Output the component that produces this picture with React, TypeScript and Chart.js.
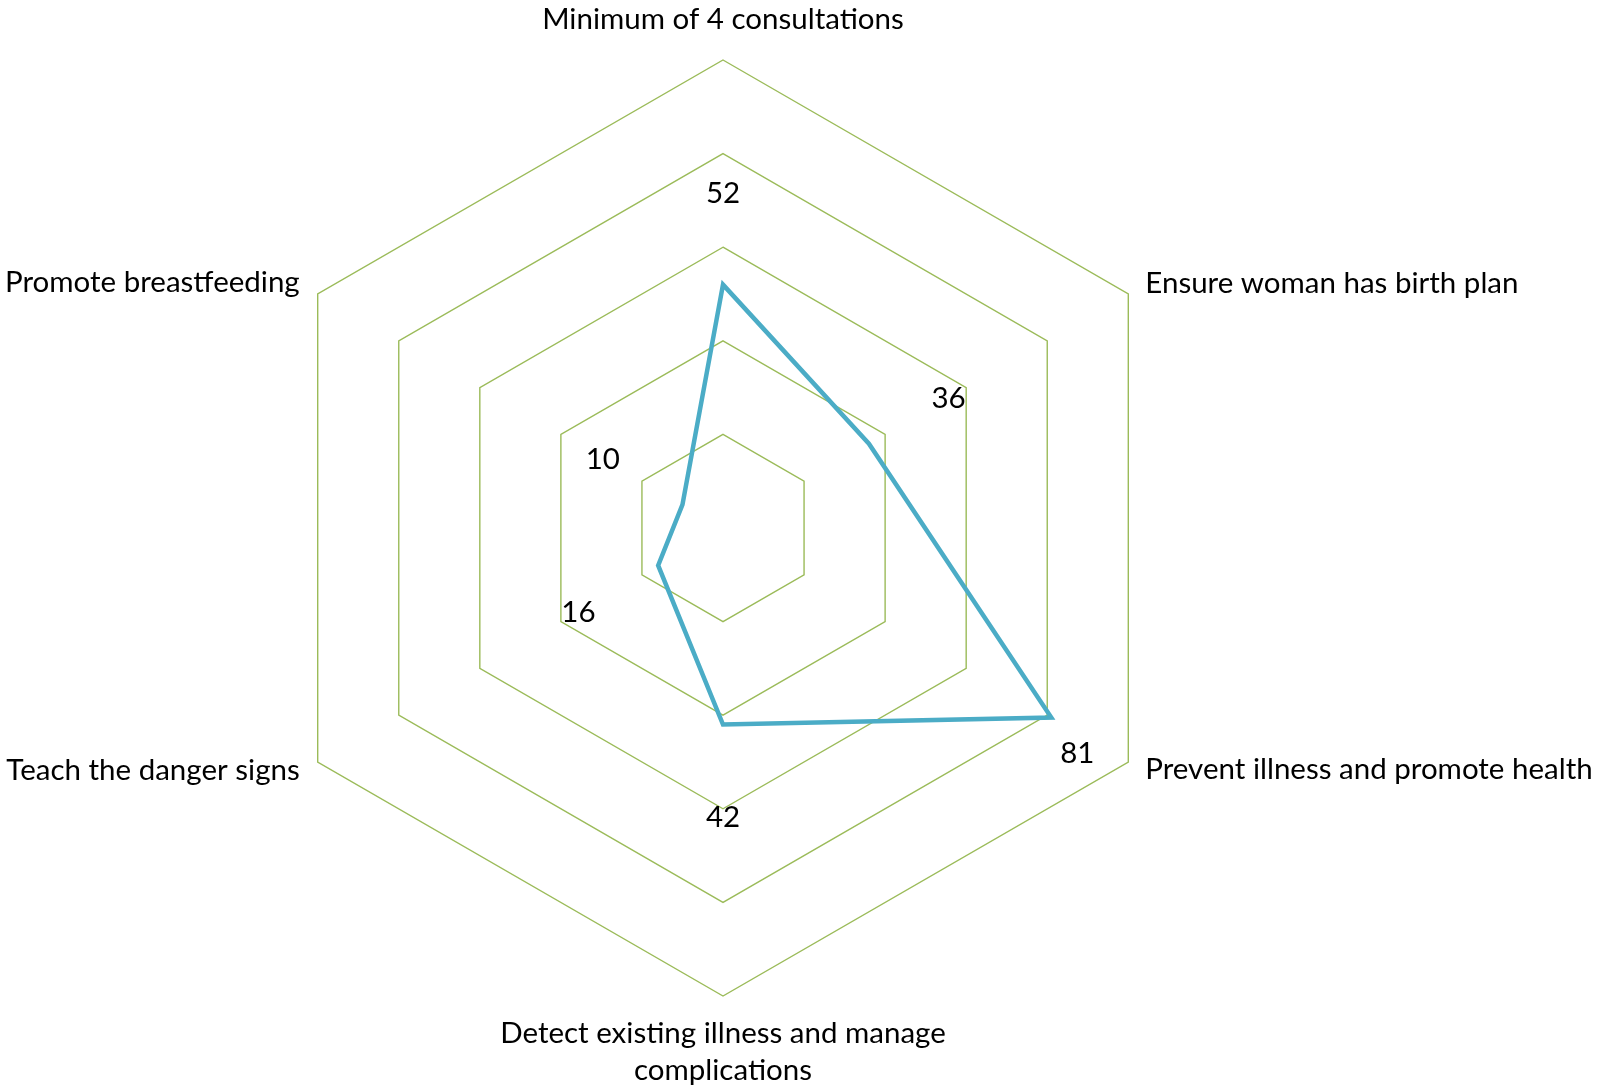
import React, { useEffect, useRef } from "react";
import { Chart, registerables } from "chart.js";

Chart.register(...registerables);

const categories: (string | string[])[] = [
  "Minimum of 4 consultations",
  "Ensure woman has birth plan",
  "Prevent illness and promote health",
  ["Detect existing illness and manage", "complications"],
  "Teach the danger signs",
  "Promote breastfeeding",
];
const values = [52, 36, 81, 42, 16, 10];
const scaleMax = 100;
const scaleStep = 20;

const FONT_FAMILY = "Lato, 'Open Sans', sans-serif";
const FONT_SIZE = 29.5;

const labelsPlugin = {
  id: "customLabels",
  afterDatasetsDraw(chart: any) {
    const scale = chart.scales.r;
    const ctx = chart.ctx;
    const R = scale.drawingArea;
    ctx.save();
    ctx.fillStyle = "#000000";
    ctx.font = `${FONT_SIZE}px ${FONT_FAMILY}`;
    ctx.textBaseline = "alphabetic";
    const n = categories.length;
    for (let i = 0; i < n; i++) {
      const v = scale.getPointPosition(i, R);
      const angleDeg = ((i * 360) / n) % 360;
      const lab = categories[i];
      const lines = Array.isArray(lab) ? lab : [lab];
      let x = v.x;
      let y = v.y;
      let align: CanvasTextAlign = "center";
      if (angleDeg === 0) {
        y = v.y - 31;
      } else if (angleDeg === 180) {
        y = v.y + 47;
      } else if (angleDeg < 180) {
        align = "left";
        x = v.x + 17;
        y = angleDeg < 90 ? v.y - 1 : v.y + 17;
      } else {
        align = "right";
        x = v.x - 18;
        y = angleDeg > 270 ? v.y - 2 : v.y + 18;
      }
      ctx.textAlign = align;
      lines.forEach((t, k) => ctx.fillText(t, x, y + k * 37));
    }
    // data labels
    ctx.textAlign = "center";
    values.forEach((val, i) => {
      const r = scale.getDistanceFromCenterForValue(val);
      let px: number, py: number;
      if (r + 92 > R) {
        const p = scale.getPointPosition(i, r);
        px = p.x + 26;
        py = p.y + 35;
      } else {
        const p = scale.getPointPosition(i, r + 92);
        px = p.x;
        py = p.y;
      }
      ctx.fillText(String(val), px, py + 10.5);
    });
    ctx.restore();
  },
};

export default function App() {
  const ref = useRef<HTMLCanvasElement>(null);
  useEffect(() => {
    if (!ref.current) return;
    const chart = new Chart(ref.current, {
      type: "radar",
      data: {
        labels: categories.map((c) => (Array.isArray(c) ? c.join(" ") : c)),
        datasets: [
          {
            label: "Series 1",
            data: values,
            borderColor: "#4BACC6",
            backgroundColor: "rgba(0,0,0,0)",
            borderWidth: 4.5,
            pointRadius: 0,
            pointHoverRadius: 0,
            fill: false,
            tension: 0,
            borderJoinStyle: "miter",
          },
        ],
      },
      options: {
        responsive: false,
        animation: false,
        devicePixelRatio: 1,
        layout: { padding: { left: 255, top: 60, right: 407, bottom: 91 } },
        plugins: {
          legend: { display: false },
          tooltip: { enabled: false },
        },
        scales: {
          r: {
            min: 0,
            max: scaleMax,
            ticks: { display: false, stepSize: scaleStep },
            grid: { color: "#9BBB59", lineWidth: 1.4 },
            angleLines: { display: false },
            pointLabels: { display: false },
          },
        },
      },
      plugins: [labelsPlugin],
    });
    return () => chart.destroy();
  }, []);
  return (
    <div style={{ position: "absolute", left: 0, top: 0, width: 1598, height: 1087, background: "#fff" }}>
      <canvas ref={ref} width={1598} height={1087} style={{ width: 1598, height: 1087 }} />
    </div>
  );
}
